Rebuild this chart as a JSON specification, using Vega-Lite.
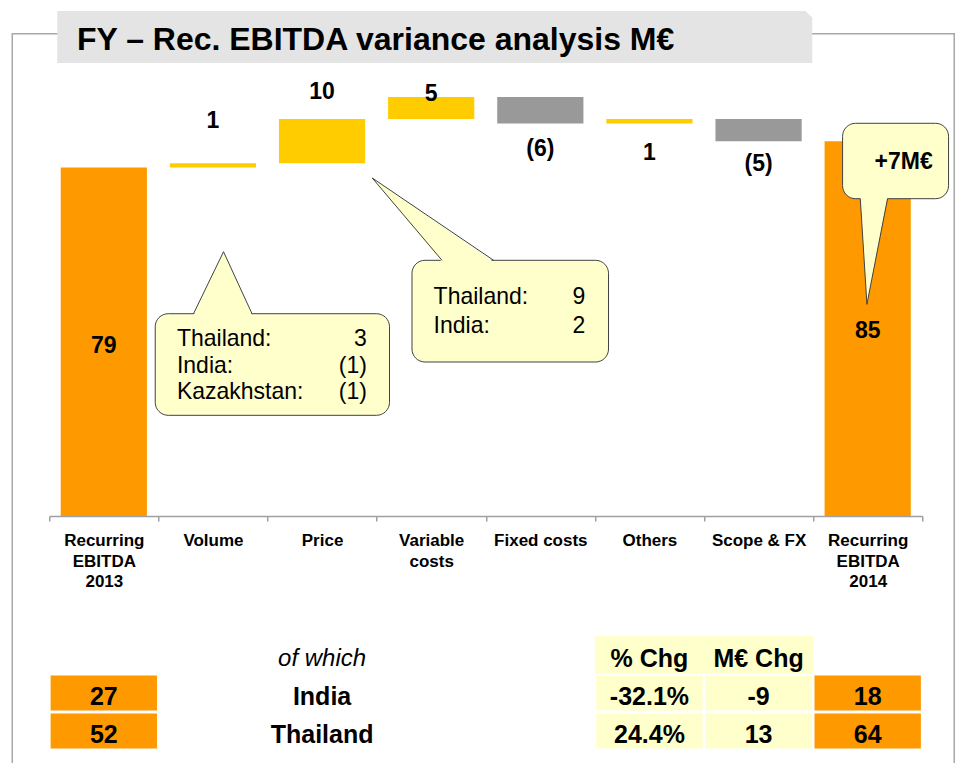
{
  "$schema": "https://vega.github.io/schema/vega-lite/v6.json",
  "autosize": {"type": "pad"},
  "padding": {"left": 11.26, "top": 10, "right": 1, "bottom": 0},
  "background": "white",
  "config": {
    "view": {"stroke": null},
    "font": "Liberation Sans",
    "text": {"font": "Liberation Sans", "color": "#000000"}
  },
  "datasets": {
    "waterfall": [
      {"category": "Recurring EBITDA 2013", "type": "total", "amount": 79, "start": 0, "end": 79, "labelAt": 38.5},
      {"category": "Volume", "type": "increase", "amount": 1, "start": 79, "end": 80, "labelAt": 89.5},
      {"category": "Price", "type": "increase", "amount": 10, "start": 80, "end": 90, "labelAt": 96.1},
      {"category": "Variable costs", "type": "increase", "amount": 5, "start": 90, "end": 95, "labelAt": 95.6},
      {"category": "Fixed costs", "type": "decrease", "amount": -6, "start": 95, "end": 89, "labelAt": 83.2},
      {"category": "Others", "type": "increase", "amount": 1, "start": 89, "end": 90, "labelAt": 82.4},
      {"category": "Scope & FX", "type": "decrease", "amount": -5, "start": 90, "end": 85, "labelAt": 79.8},
      {"category": "Recurring EBITDA 2014", "type": "total", "amount": 85, "start": 0, "end": 85, "labelAt": 41.9}
    ],
    "calloutBoxes": [
      {"box": 1, "x0": 0.971, "x1": 3.118, "y0": 45.87, "y1": 22.83},
      {"box": 2, "x0": 3.324, "x1": 5.125, "y0": 57.98, "y1": 34.92},
      {"box": 3, "x0": 7.27, "x1": 8.241, "y0": 89.05, "y1": 71.95}
    ],
    "pointerFill": [
      {"box": 1, "x": 1.322, "yTop": 45.5, "yBottom": 45.5},
      {"box": 1, "x": 1.597, "yTop": 59.93, "yBottom": 45.5},
      {"box": 1, "x": 1.858, "yTop": 45.5, "yBottom": 45.5},
      {"box": 2, "x": 2.96, "yTop": 76.64, "yBottom": 76.64},
      {"box": 2, "x": 3.599, "yTop": 65.7, "yBottom": 57.6},
      {"box": 2, "x": 4.072, "yTop": 57.6, "yBottom": 57.6},
      {"box": 3, "x": 7.432, "yTop": 72.3, "yBottom": 72.3},
      {"box": 3, "x": 7.493, "yTop": 72.3, "yBottom": 48.0},
      {"box": 3, "x": 7.682, "yTop": 72.3, "yBottom": 72.3}
    ],
    "pointerEdge": [
      {"box": 1, "seq": 0, "x": 1.322, "y": 45.87},
      {"box": 1, "seq": 1, "x": 1.597, "y": 59.93},
      {"box": 1, "seq": 2, "x": 1.858, "y": 45.87},
      {"box": 2, "seq": 0, "x": 3.599, "y": 57.98},
      {"box": 2, "seq": 1, "x": 2.96, "y": 76.64},
      {"box": 2, "seq": 2, "x": 4.072, "y": 57.98},
      {"box": 3, "seq": 0, "x": 7.432, "y": 71.95},
      {"box": 3, "seq": 1, "x": 7.493, "y": 48.0},
      {"box": 3, "seq": 2, "x": 7.682, "y": 71.95}
    ],
    "calloutText": [
      {"box": 1, "name": "Thailand:", "value": 3, "xl": 1.17, "xr": 2.911, "y": 38.55},
      {"box": 1, "name": "India:", "value": -1, "xl": 1.17, "xr": 2.911, "y": 32.49},
      {"box": 1, "name": "Kazakhstan:", "value": -1, "xl": 1.17, "xr": 2.911, "y": 26.46},
      {"box": 2, "name": "Thailand:", "value": 9, "xl": 3.522, "xr": 4.912, "y": 48.0},
      {"box": 2, "name": "India:", "value": 2, "xl": 3.522, "xr": 4.912, "y": 41.56}
    ],
    "countries": [
      {"country": "India", "ebitda2013": 27, "pctChg": -32.1, "meurChg": -9, "ebitda2014": 18},
      {"country": "Thailand", "ebitda2013": 52, "pctChg": 24.4, "meurChg": 13, "ebitda2014": 64}
    ],
    "tableHeader": [
      {"col": "country", "text": "of which"},
      {"col": "pctChg", "text": "% Chg"},
      {"col": "meurChg", "text": "M€ Chg"}
    ]
  },
  "spacing": 120,
  "bounds": "flush",
  "resolve": {"scale": {"color": "independent"}},
  "vconcat": [
    {
      "width": 873,
      "height": 441,
      "resolve": {"scale": {"x": "independent"}},
      "layer": [
        {
          "layer": [
            {
              "data": {"values": [{"x0": -0.339, "x1": 8.293, "y0": 109.37, "y1": -56.5}]},
              "mark": {"type": "rect", "fillOpacity": 0, "stroke": "#A8A8A8", "strokeWidth": 1.5},
              "encoding": {
                "x": {"field": "x0", "type": "quantitative", "scale": {"domain": [0, 8], "nice": false, "zero": false}, "axis": null},
                "x2": {"field": "x1"},
                "y": {"field": "y0", "type": "quantitative", "scale": {"domain": [0, 100], "nice": false, "zero": false}, "axis": null},
                "y2": {"field": "y1"}
              }
            },
            {
              "data": {"values": [{"x0": 0.0733, "x1": 6.992, "y0": 114.51, "y1": 102.72}]},
              "mark": {"type": "rect", "fill": "#E4E4E4"},
              "encoding": {
                "x": {"field": "x0", "type": "quantitative", "scale": {"domain": [0, 8], "nice": false, "zero": false}, "axis": null},
                "x2": {"field": "x1"},
                "y": {"field": "y0", "type": "quantitative", "scale": {"domain": [0, 100], "nice": false, "zero": false}, "axis": null},
                "y2": {"field": "y1"}
              }
            },
            {
              "data": {"values": [
                {"x": 6.925, "yTop": 114.6, "yBottom": 114.6},
                {"x": 6.995, "yTop": 114.6, "yBottom": 112.9}
              ]},
              "mark": {"type": "area", "fill": "#FFFFFF", "strokeWidth": 0, "orient": "vertical"},
              "encoding": {
                "x": {"field": "x", "type": "quantitative", "scale": {"domain": [0, 8], "nice": false, "zero": false}, "axis": null},
                "y": {"field": "yTop", "type": "quantitative", "scale": {"domain": [0, 100], "nice": false, "zero": false}, "axis": null, "stack": null},
                "y2": {"field": "yBottom"}
              }
            },
            {
              "data": {"values": [{"text": "FY – Rec. EBITDA variance analysis M€", "x": 0.2538, "y": 105.67}]},
              "mark": {"type": "text", "align": "left", "baseline": "alphabetic", "fontSize": 32, "fontWeight": "bold", "color": "#000000"},
              "encoding": {
                "x": {"field": "x", "type": "quantitative", "scale": {"domain": [0, 8], "nice": false, "zero": false}, "axis": null},
                "y": {"field": "y", "type": "quantitative", "scale": {"domain": [0, 100], "nice": false, "zero": false}, "axis": null},
                "text": {"field": "text"}
              }
            }
          ]
        },
        {
          "data": {"name": "waterfall"},
          "encoding": {
            "x": {
              "field": "category", "type": "nominal", "sort": null,
              "scale": {"paddingInner": 0, "paddingOuter": 0},
              "axis": {
                "title": null, "labelAngle": 0,
                "labelExpr": "indexof(['Recurring EBITDA 2013', 'Recurring EBITDA 2014', 'Variable costs'], datum.label) >= 0 ? split(datum.label, ' ') : datum.label",
                "labelFont": "Liberation Sans", "labelFontSize": 17, "labelFontWeight": "bold", "labelColor": "#000000",
                "labelLineHeight": 20.5, "labelPadding": 12, "labelLimit": 200,
                "tickBand": "extent", "tickSize": 5, "tickColor": "#A0A0A0", "tickWidth": 1.5,
                "domainColor": "#A0A0A0", "domainWidth": 1.5
              }
            }
          },
          "layer": [
            {
              "mark": {"type": "bar", "width": {"band": 0.79}},
              "encoding": {
                "y": {"field": "start", "type": "quantitative", "scale": {"domain": [0, 100], "nice": false, "zero": false}, "axis": null, "stack": null},
                "y2": {"field": "end"},
                "color": {"field": "type", "type": "nominal", "scale": {"domain": ["total", "increase", "decrease"], "range": ["#FF9900", "#FFCC00", "#999999"]}, "legend": null}
              }
            },
            {
              "mark": {"type": "text", "fontSize": 23, "fontWeight": "bold", "baseline": "middle", "align": "center", "color": "#000000"},
              "encoding": {
                "y": {"field": "labelAt", "type": "quantitative", "scale": {"domain": [0, 100], "nice": false, "zero": false}, "axis": null},
                "text": {"field": "amount", "type": "quantitative", "format": "(d"}
              }
            }
          ]
        },
        {
          "layer": [
            {
              "data": {"name": "calloutBoxes"},
              "mark": {"type": "rect", "fill": "#FFFFCC", "stroke": "#404040", "strokeWidth": 1, "cornerRadius": 13},
              "encoding": {
                "x": {"field": "x0", "type": "quantitative", "scale": {"domain": [0, 8], "nice": false, "zero": false}, "axis": null},
                "x2": {"field": "x1"},
                "y": {"field": "y0", "type": "quantitative", "scale": {"domain": [0, 100], "nice": false, "zero": false}, "axis": null},
                "y2": {"field": "y1"}
              }
            },
            {
              "data": {"name": "pointerFill"},
              "mark": {"type": "area", "fill": "#FFFFCC", "strokeWidth": 0, "orient": "vertical"},
              "encoding": {
                "x": {"field": "x", "type": "quantitative", "scale": {"domain": [0, 8], "nice": false, "zero": false}, "axis": null},
                "y": {"field": "yTop", "type": "quantitative", "scale": {"domain": [0, 100], "nice": false, "zero": false}, "axis": null, "stack": null},
                "y2": {"field": "yBottom"},
                "detail": {"field": "box", "type": "nominal"}
              }
            },
            {
              "data": {"name": "pointerEdge"},
              "mark": {"type": "line", "stroke": "#404040", "strokeWidth": 1},
              "encoding": {
                "x": {"field": "x", "type": "quantitative", "scale": {"domain": [0, 8], "nice": false, "zero": false}, "axis": null},
                "y": {"field": "y", "type": "quantitative", "scale": {"domain": [0, 100], "nice": false, "zero": false}, "axis": null},
                "detail": {"field": "box", "type": "nominal"},
                "order": {"field": "seq", "type": "quantitative"}
              }
            },
            {
              "data": {"name": "calloutText"},
              "mark": {"type": "text", "align": "left", "baseline": "alphabetic", "fontSize": 23, "color": "#000000"},
              "encoding": {
                "x": {"field": "xl", "type": "quantitative", "scale": {"domain": [0, 8], "nice": false, "zero": false}, "axis": null},
                "y": {"field": "y", "type": "quantitative", "scale": {"domain": [0, 100], "nice": false, "zero": false}, "axis": null},
                "text": {"field": "name"}
              }
            },
            {
              "data": {"name": "calloutText"},
              "mark": {"type": "text", "align": "right", "baseline": "alphabetic", "fontSize": 23, "color": "#000000"},
              "encoding": {
                "x": {"field": "xr", "type": "quantitative", "scale": {"domain": [0, 8], "nice": false, "zero": false}, "axis": null},
                "y": {"field": "y", "type": "quantitative", "scale": {"domain": [0, 100], "nice": false, "zero": false}, "axis": null},
                "text": {"field": "value", "type": "quantitative", "format": "(d"}
              }
            },
            {
              "data": {"values": [{"text": "+7M€", "x": 7.829, "y": 78.62}]},
              "mark": {"type": "text", "align": "center", "baseline": "alphabetic", "fontSize": 23, "fontWeight": "bold", "color": "#000000"},
              "encoding": {
                "x": {"field": "x", "type": "quantitative", "scale": {"domain": [0, 8], "nice": false, "zero": false}, "axis": null},
                "y": {"field": "y", "type": "quantitative", "scale": {"domain": [0, 100], "nice": false, "zero": false}, "axis": null},
                "text": {"field": "text"}
              }
            }
          ]
        }
      ]
    },
    {
      "width": 873,
      "height": 114,
      "encoding": {
        "x": {"field": "col", "type": "nominal", "scale": {"domain": ["ebitda2013", "gap1", "country", "gap2", "gap3", "pctChg", "meurChg", "ebitda2014"], "paddingInner": 0, "paddingOuter": 0}, "axis": null},
        "y": {"field": "row", "type": "nominal", "scale": {"domain": ["header", "India", "Thailand"], "paddingInner": 0, "paddingOuter": 0}, "axis": null}
      },
      "layer": [
        {
          "data": {"name": "tableHeader"},
          "transform": [{"filter": "datum.col != 'country'"}, {"calculate": "'header'", "as": "row"}],
          "mark": {"type": "rect", "fill": "#FFFFCC"}
        },
        {
          "data": {"name": "countries"},
          "transform": [
            {"fold": ["ebitda2013", "pctChg", "meurChg", "ebitda2014"], "as": ["col", "value"]},
            {"calculate": "datum.country", "as": "row"}
          ],
          "mark": {"type": "rect", "width": {"band": 0.975}, "height": {"band": 0.92}},
          "encoding": {
            "color": {"field": "col", "type": "nominal", "scale": {"domain": ["ebitda2013", "pctChg", "meurChg", "ebitda2014"], "range": ["#FF9900", "#FFFFCC", "#FFFFCC", "#FF9900"]}, "legend": null}
          }
        },
        {
          "data": {"name": "countries"},
          "transform": [
            {"fold": ["ebitda2013", "pctChg", "meurChg", "ebitda2014"], "as": ["col", "value"]},
            {"calculate": "datum.country", "as": "row"},
            {"calculate": "datum.col == 'pctChg' ? datum.value + '%' : '' + datum.value", "as": "label"}
          ],
          "mark": {"type": "text", "fontSize": 25, "fontWeight": "bold", "baseline": "middle", "align": "center", "dy": 4, "color": "#000000"},
          "encoding": {"text": {"field": "label"}}
        },
        {
          "data": {"name": "countries"},
          "transform": [{"calculate": "'country'", "as": "col"}, {"calculate": "datum.country", "as": "row"}],
          "mark": {"type": "text", "fontSize": 25, "fontWeight": "bold", "baseline": "middle", "align": "center", "dy": 4, "color": "#000000"},
          "encoding": {"text": {"field": "country"}}
        },
        {
          "data": {"name": "tableHeader"},
          "transform": [{"filter": "datum.col != 'country'"}, {"calculate": "'header'", "as": "row"}],
          "mark": {"type": "text", "fontSize": 25, "fontWeight": "bold", "baseline": "middle", "align": "center", "dy": 4, "color": "#000000"},
          "encoding": {"text": {"field": "text"}}
        },
        {
          "data": {"name": "tableHeader"},
          "transform": [{"filter": "datum.col == 'country'"}, {"calculate": "'header'", "as": "row"}],
          "mark": {"type": "text", "fontSize": 24, "fontStyle": "italic", "baseline": "middle", "align": "center", "dy": 4, "color": "#000000"},
          "encoding": {"text": {"field": "text"}}
        }
      ]
    }
  ]
}
